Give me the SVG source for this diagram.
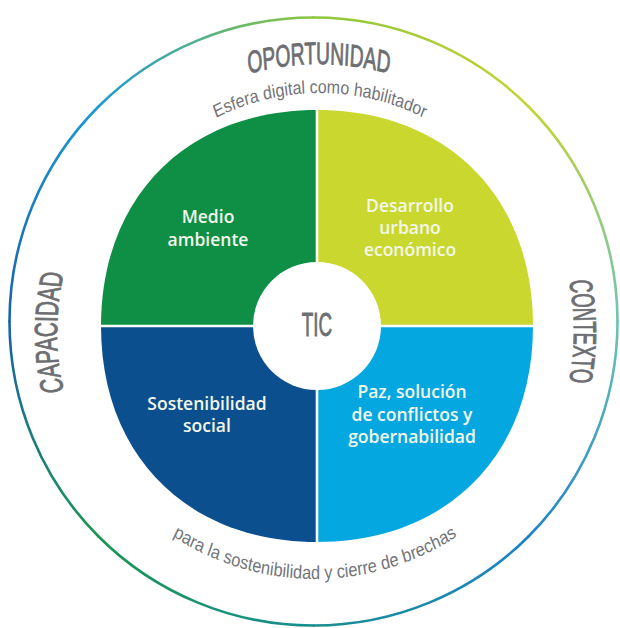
<svg xmlns="http://www.w3.org/2000/svg" width="620" height="628" viewBox="0 0 620 628">
<style>
.ring{fill:none;stroke-width:2.6;stroke-linecap:round}
.big{font-family:"Liberation Sans",Arial,sans-serif;font-weight:normal;fill:#6d6e71;stroke:#6d6e71;stroke-width:0.9}
.sub{font-family:"Liberation Sans",Arial,sans-serif;fill:#737478}
.lbl{font-family:"Open Sans","Noto Sans",sans-serif;font-weight:600;font-size:17.5px;fill:#f3f7ea;text-anchor:middle}
.sep{stroke:#ffffff;stroke-width:2.6}
</style>
<defs>
<linearGradient id="g1" gradientUnits="userSpaceOnUse" x1="98.5" y1="106.5" x2="313.5" y2="17.5"><stop offset="0" stop-color="#1b9ad6"/><stop offset="1" stop-color="#8cc63e"/></linearGradient>
<linearGradient id="g2" gradientUnits="userSpaceOnUse" x1="313.5" y1="17.5" x2="528.5" y2="106.5"><stop offset="0" stop-color="#8cc63e"/><stop offset="1" stop-color="#c6d530"/></linearGradient>
<linearGradient id="g3" gradientUnits="userSpaceOnUse" x1="528.5" y1="106.5" x2="617.5" y2="321.5"><stop offset="0" stop-color="#c6d530"/><stop offset="1" stop-color="#6ec4b4"/></linearGradient>
<linearGradient id="g4" gradientUnits="userSpaceOnUse" x1="617.5" y1="321.5" x2="528.5" y2="536.5"><stop offset="0" stop-color="#6ec4b4"/><stop offset="1" stop-color="#1c82c9"/></linearGradient>
<linearGradient id="g5" gradientUnits="userSpaceOnUse" x1="528.5" y1="536.5" x2="313.5" y2="625.5"><stop offset="0" stop-color="#1c82c9"/><stop offset="1" stop-color="#178f90"/></linearGradient>
<linearGradient id="g6" gradientUnits="userSpaceOnUse" x1="313.5" y1="625.5" x2="98.5" y2="536.5"><stop offset="0" stop-color="#178f90"/><stop offset="1" stop-color="#1a9650"/></linearGradient>
<linearGradient id="g7" gradientUnits="userSpaceOnUse" x1="98.5" y1="536.5" x2="9.5" y2="321.5"><stop offset="0" stop-color="#1a9650"/><stop offset="1" stop-color="#1b62aa"/></linearGradient>
<linearGradient id="g8" gradientUnits="userSpaceOnUse" x1="9.5" y1="321.5" x2="98.5" y2="106.5"><stop offset="0" stop-color="#1b62aa"/><stop offset="1" stop-color="#1b9ad6"/></linearGradient>
<path id="pTop" d="M -416.1 0 A 416.1 258 0 0 1 416.1 0"/>
<path id="pLeft" d="M 0 395.4 A 257 395.4 0 0 1 0 -395.4"/>
<path id="pRight" d="M 0 -448.3 A 260 448.3 0 0 1 0 448.3"/>
<path id="pEsfera" d="M -263.2 0 A 263.2 229 0 0 1 263.2 0"/>
<path id="pBottom" d="M -295.4 0 A 295.4 257 0 0 0 295.4 0"/>
</defs>

<g id="outer-ring">
<path class="ring" stroke="url(#g1)" d="M 98.54 106.54 A 304 304 0 0 1 313.5 17.5"/>
<path class="ring" stroke="url(#g2)" d="M 313.5 17.5 A 304 304 0 0 1 528.46 106.54"/>
<path class="ring" stroke="url(#g3)" d="M 528.46 106.54 A 304 304 0 0 1 617.5 321.5"/>
<path class="ring" stroke="url(#g4)" d="M 617.5 321.5 A 304 304 0 0 1 528.46 536.46"/>
<path class="ring" stroke="url(#g5)" d="M 528.46 536.46 A 304 304 0 0 1 313.5 625.5"/>
<path class="ring" stroke="url(#g6)" d="M 313.5 625.5 A 304 304 0 0 1 98.54 536.46"/>
<path class="ring" stroke="url(#g7)" d="M 98.54 536.46 A 304 304 0 0 1 9.5 321.5"/>
<path class="ring" stroke="url(#g8)" d="M 9.5 321.5 A 304 304 0 0 1 98.54 106.54"/>
</g>

<g id="ring-labels">
<g transform="translate(319,322) scale(0.62,1)">
<text class="big" font-size="31"><textPath href="#pTop" startOffset="50%" text-anchor="middle">OPORTUNIDAD</textPath></text>
</g>
<g transform="translate(314,332.5) scale(1,0.65)">
<text class="big" font-size="32"><textPath href="#pLeft" startOffset="50%" text-anchor="middle">CAPACIDAD</textPath></text>
</g>
<g transform="translate(314,331.5) scale(1,0.58)">
<text class="big" font-size="32"><textPath href="#pRight" startOffset="50%" text-anchor="middle">CONTEXTO</textPath></text>
</g>
<g transform="translate(320,322) scale(0.87,1)">
<text class="sub" font-size="18.4"><textPath href="#pEsfera" startOffset="50%" text-anchor="middle">Esfera digital como habilitador</textPath></text>
</g>
<g transform="translate(315,322) scale(0.87,1)">
<text class="sub" font-size="18.8"><textPath href="#pBottom" startOffset="50%" text-anchor="middle">para la sostenibilidad y cierre de brechas</textPath></text>
</g>
</g>

<g id="medio-ambiente">
<path fill="#0e8f45" d="M 317 326 L 101 326 C 101 196.4 187.4 110 317 110 Z"/>
<text class="lbl"><tspan x="208" y="223">Medio</tspan><tspan x="208" y="246">ambiente</tspan></text>
</g>
<g id="desarrollo-urbano">
<path fill="#c9d72f" d="M 317 326 L 317 110 C 446.6 110 533 196.4 533 326 Z"/>
<text class="lbl"><tspan x="410" y="212">Desarrollo</tspan><tspan x="410" y="234">urbano</tspan><tspan x="410" y="256">económico</tspan></text>
</g>
<g id="paz">
<path fill="#05a7e0" d="M 317 326 L 533 326 C 533 455.6 446.6 542 317 542 Z"/>
<text class="lbl"><tspan x="412" y="398">Paz, solución</tspan><tspan x="412" y="421">de conflictos y</tspan><tspan x="412" y="443">gobernabilidad</tspan></text>
</g>
<g id="sostenibilidad-social">
<path fill="#0b4f8e" d="M 317 326 L 317 542 C 187.4 542 101 455.6 101 326 Z"/>
<text class="lbl"><tspan x="207" y="410">Sostenibilidad</tspan><tspan x="207" y="432">social</tspan></text>
</g>
<g id="separators">
<line class="sep" x1="317" y1="100" x2="317" y2="548"/>
<line class="sep" x1="95" y1="326" x2="540" y2="326"/>
</g>
<g id="tic">
<circle cx="317" cy="326" r="64" fill="#ffffff"/>
<text class="big" font-size="33" text-anchor="middle" transform="translate(317,336) scale(0.57,1)" x="0" y="0">TIC</text>
</g>
</svg>
